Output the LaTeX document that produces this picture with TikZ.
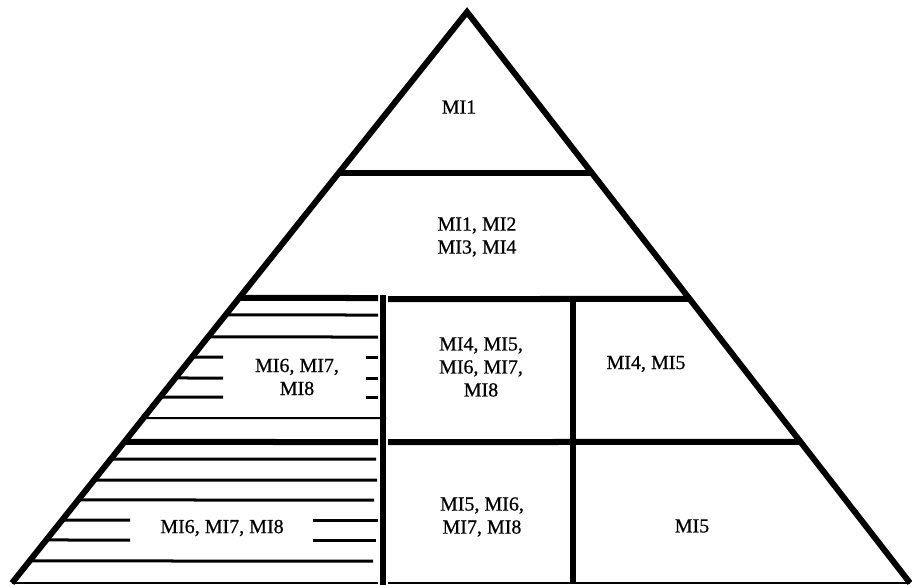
\documentclass[tikz,border=0pt]{standalone}
\usepackage{fontspec}
\setmainfont{Liberation Serif}[FakeBold=0.6]
\usetikzlibrary{calc}

\tikzset{
  heavy/.style={line width=6pt},
  edgeline/.style={line width=6pt, line join=miter},
  baseline/.style={line width=2.5pt},
  hatchline/.style={line width=3pt},
  thinhatch/.style={line width=2pt},
  label/.style={font=\fontsize{20}{23}\selectfont, align=center, inner sep=0pt}
}

% point on the left slope at image height #1
\newcommand\lft[1]{($(apx)!{(#1-12)/571}!(bl)$)}
% point on the right slope at image height #1
\newcommand\rgt[1]{($(apx)!{(#1-12)/571}!(br)$)}

\begin{document}
\begin{tikzpicture}[x=1pt,y=-1pt]
  \useasboundingbox (0,0) rectangle (912,585);

  \coordinate (apx) at (467,12);
  \coordinate (bl) at (12,583);
  \coordinate (br) at (910,583);

  % hatching of the left column
  \foreach \yy/\xe in {315/378, 337/378, 459/376, 480/377, 500/374, 561/373}
    \draw[hatchline] \lft{\yy} -- (\xe,\yy);
  \foreach \yy in {357, 378, 397} {
    \draw[hatchline] \lft{\yy} -- (223,\yy);
    \draw[hatchline] (366,\yy) -- (378,\yy);
  }
  \foreach \yy/\xe in {520/378, 540/376} {
    \draw[hatchline] \lft{\yy} -- (130,\yy);
    \draw[hatchline] (313,\yy) -- (\xe,\yy);
  }
  \draw[white, line width=8pt] \lft{420} -- ++(2,0);
  \draw[thinhatch] \lft{418} -- (386,418);

  % tier dividers
  \draw[heavy] \lft{173} -- \rgt{173};
  \draw[heavy] \lft{298} -- (378,298);
  \draw[heavy] (388,299) -- \rgt{299};
  \draw[heavy] \lft{442} -- (378,442);
  \draw[heavy] (388,442) -- \rgt{442};

  % column dividers
  \draw[heavy] (383,295) -- (383,585);
  \draw[heavy] (573,300) -- (573,583);

  % base
  \draw[baseline] (bl) -- (378,583);
  \draw[baseline] (388,583) -- (br);

  % outline
  \draw[edgeline] (bl) -- (apx) -- (br);

  % labels
  \node[label] (t1) at (459,107) {MI1};
  \node[label] (t2) at (477,237) {MI1, MI2\\MI3, MI4};
  \node[label] (l1) at (297,377) {MI6, MI7,\\MI8};
  \node[label] (m1) at (481,367) {MI4, MI5,\\MI6, MI7,\\MI8};
  \node[label] (r1) at (646,364) {MI4, MI5};
  \node[label] (l2) at (222,528) {MI6, MI7, MI8};
  \node[label] (m2) at (482,517) {MI5, MI6,\\MI7, MI8};
  \node[label] (r2) at (692,526) {MI5};
\end{tikzpicture}
\end{document}
